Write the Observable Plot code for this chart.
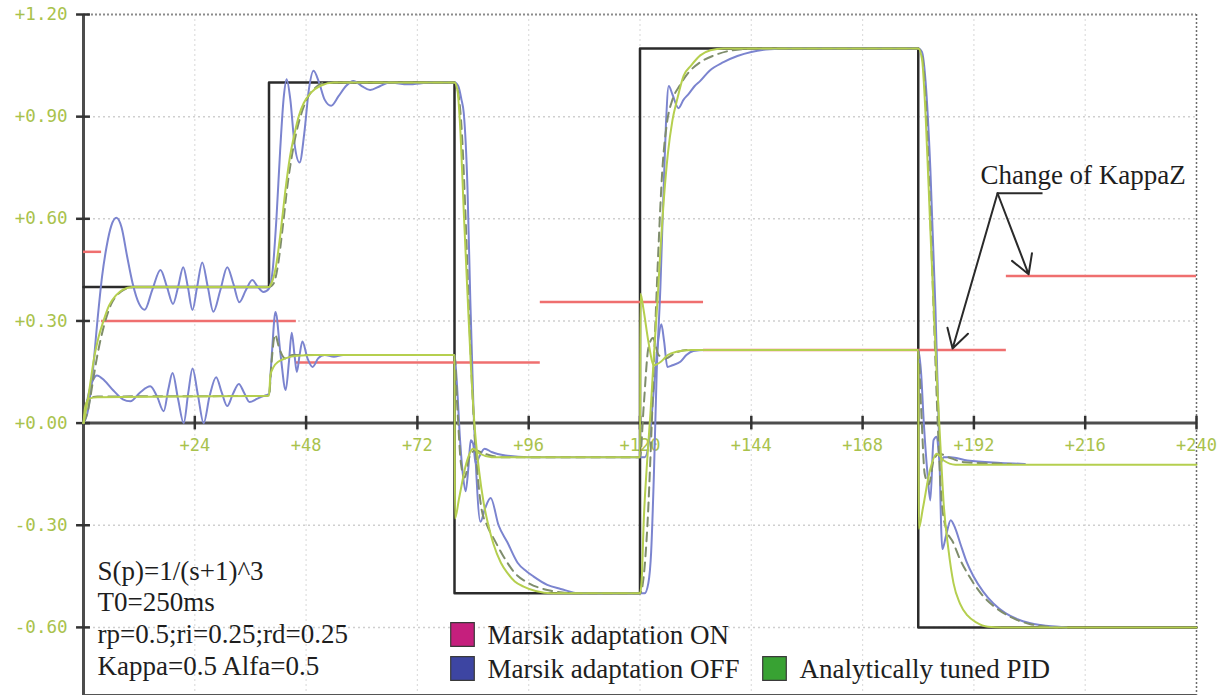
<!DOCTYPE html>
<html>
<head>
<meta charset="utf-8">
<script src="https://cdn.jsdelivr.net/npm/d3@7"></script>
<script src="https://cdn.jsdelivr.net/npm/@observablehq/plot@0.6"></script>
<style>
  html, body { margin: 0; padding: 0; background: #ffffff; }
  #chart { width: 1230px; height: 695px; }
</style>
</head>
<body>
<div id="chart"></div>
<script>
// ---------- data ----------
const xTicks = [24, 48, 72, 96, 120, 144, 168, 192, 216, 240];
const yTicks = [-0.6, -0.3, 0, 0.3, 0.6, 0.9, 1.2];

// set-point w(t)
const setpoint = [[0,0.4],[40,0.4],[40,1.0],[80,1.0],[80,-0.5],[120,-0.5],[120,1.1],[180,1.1],[180,-0.6],[240,-0.6]];

// Analytically tuned PID: output y and control u
const pidOutput = [
  [0,0],[0.7,0.05],[1.5,0.12],[2.2,0.185],[3.2,0.25],[4.3,0.3],[5.5,0.345],[7,0.375],[8.5,0.392],[10.5,0.4],[40,0.4],
  [40.5,0.41],[41.5,0.46],[42.5,0.56],[43.5,0.68],[44.5,0.78],[45.5,0.85],[46.5,0.905],[47.5,0.94],[49,0.97],[51,0.99],[54,1.0],[80,1.0],
  [80.6,0.98],[81.3,0.85],[82,0.62],[82.8,0.38],[83.6,0.15],[84.4,-0.02],[85.3,-0.14],[86.3,-0.235],[87.3,-0.3],[88.4,-0.355],[90,-0.41],[91.4,-0.44],[93,-0.465],[94.9,-0.48],[97.5,-0.493],[101,-0.5],[120,-0.5],
  [120.4,-0.45],[120.8,-0.29],[121.5,-0.12],[122.3,0.04],[123,0.2],[123.8,0.365],[124.5,0.53],[125.1,0.65],[126,0.79],[127,0.89],[128,0.95],[129.4,1.02],[131,1.05],[133,1.08],[135.2,1.095],[138,1.1],[180,1.1],
  [180.8,1.07],[181.6,0.9],[182.6,0.57],[183.4,0.32],[184.1,0.11],[184.8,-0.07],[185.5,-0.24],[186.5,-0.37],[187.6,-0.47],[189,-0.53],[190.6,-0.565],[192.5,-0.585],[195,-0.598],[198,-0.6],[240,-0.6]
];
const pidControl = [
  [0,0],[0.4,0.05],[1.2,0.072],[3,0.076],[40,0.08],
  [40.3,0.14],[41,0.165],[42,0.18],[43.5,0.19],[46,0.198],[50,0.2],[80,0.2],
  [80.1,-0.28],[81,-0.22],[82.5,-0.12],[84,-0.075],[85.5,-0.09],[88,-0.1],[120,-0.1],
  [120.1,0.38],[120.8,0.33],[121.8,0.24],[123,0.17],[124.5,0.18],[126,0.2],[128,0.21],[131,0.215],[180,0.215],
  [180.1,-0.31],[181,-0.25],[182.5,-0.14],[184,-0.09],[185.5,-0.11],[188,-0.122],[240,-0.122]
];

// Marsik adaptation OFF: output y and control u
const offOutput = [
  [0,0],[1,0.04],[2,0.15],[3,0.3],[4,0.43],[5,0.52],[6,0.58],[7.1,0.603],[8.2,0.575],[9.4,0.49],[10.6,0.41],[12,0.35],[13.2,0.333],
  [14.8,0.39],[16.6,0.45],[18,0.4],[19.3,0.35],[20.4,0.4],[21.5,0.458],[22.5,0.4],[23.5,0.332],[24.5,0.4],[25.6,0.472],[26.8,0.4],[28,0.327],
  [29.5,0.39],[31,0.458],[32.3,0.41],[33.6,0.355],[35,0.39],[36.4,0.42],[37.6,0.4],[38.8,0.385],[40,0.395],
  [40.8,0.45],[41.6,0.6],[42.4,0.8],[43.2,0.96],[43.8,1.01],[44.6,0.95],[45.5,0.82],[46.6,0.765],[47.6,0.85],[48.6,0.98],[49.6,1.035],[50.8,1.0],
  [52,0.95],[53.4,0.932],[55,0.96],[56.6,0.99],[58.2,1.005],[60,0.99],[61.8,0.978],[64,0.99],[66,1.0],[70,0.995],[75,1.0],[80,1.0],
  [80.8,0.99],[81.5,0.95],[82,0.91],[82.8,0.69],[83.4,0.365],[84.1,0.04],[84.6,-0.12],[85.6,-0.29],[86.6,-0.25],[87.8,-0.22],[89.5,-0.3],[91.4,-0.35],
  [93.6,-0.41],[95.5,-0.435],[97,-0.45],[100,-0.475],[102.9,-0.487],[107,-0.5],[120,-0.5],
  [121,-0.5],[121.8,-0.47],[122.4,-0.38],[123,-0.15],[123.6,0.15],[124.4,0.4],[125,0.65],[125.6,0.88],[126.2,0.99],[127,0.965],[128.3,0.925],
  [129.4,0.95],[130.5,0.967],[131.8,0.99],[133,1.005],[135,1.035],[138,1.06],[141,1.078],[144,1.09],[148,1.098],[152,1.1],[180,1.1],
  [180.8,1.09],[181.6,1.0],[182.6,0.75],[183.7,0.34],[184.4,0.0],[185.2,-0.37],[186,-0.33],[187,-0.285],[188,-0.31],[189.1,-0.355],[190.5,-0.41],
  [191.9,-0.45],[194,-0.495],[196.2,-0.53],[198.8,-0.558],[201.4,-0.576],[204,-0.587],[206.4,-0.593],[212,-0.6]
];
const offControl = [
  [0,0],[1,0.08],[2,0.125],[2.9,0.14],[4.5,0.125],[6.5,0.095],[8.5,0.07],[10.1,0.064],[12.2,0.09],[14.4,0.108],[15.8,0.08],[17.3,0.035],
  [18.3,0.1],[19.2,0.147],[20.4,0.07],[21.6,0.0],[22.6,0.09],[23.5,0.16],[24.7,0.08],[25.9,0.0],[27.2,0.08],[28.6,0.135],[29.8,0.09],[31,0.05],
  [32.2,0.085],[33.5,0.115],[34.6,0.09],[35.8,0.062],[37.5,0.072],[39.4,0.082],[40,0.085],
  [40.6,0.2],[41.4,0.326],[42.5,0.2],[43.6,0.097],[44.3,0.18],[44.9,0.265],[45.5,0.2],[46,0.15],[46.6,0.2],[47.2,0.24],[48.3,0.19],[49.4,0.165],
  [50.6,0.19],[52,0.2],[54,0.195],[56,0.2],[80,0.2],
  [80.5,0.12],[81.2,-0.05],[81.8,-0.15],[82.4,-0.2],[83,-0.13],[83.5,-0.05],[84,-0.06],[84.6,-0.12],[85.3,-0.1],[86.5,-0.075],[88,-0.085],[91,-0.095],[96,-0.1],[120,-0.1],
  [121,-0.1],[122,-0.05],[123,0.1],[124,0.25],[124.6,0.29],[125.2,0.24],[125.9,0.165],[127,0.17],[128.7,0.18],[130,0.2],[131.5,0.212],[134,0.215],[180,0.215],
  [180.6,0.15],[181.2,0.0],[182,-0.15],[182.6,-0.227],[183.3,-0.05],[184,-0.04],[184.7,-0.12],[185.5,-0.1],[187,-0.1],[190.6,-0.11],[197.8,-0.117],[203,-0.12]
];

// Marsik adaptation ON: output y and control u
const onOutput = [
  [0,0],[1,0.04],[2,0.12],[3,0.2],[4.5,0.29],[6,0.35],[8,0.385],[11,0.4],[40,0.4],
  [41,0.41],[42,0.47],[43,0.58],[44,0.7],[45,0.79],[46,0.86],[47,0.91],[48.5,0.96],[50,0.985],[52,1.0],[80,1.0],
  [80.8,0.97],[81.6,0.85],[82.4,0.6],[83.2,0.3],[84,0.05],[84.8,-0.12],[85.8,-0.25],[87,-0.3],[88.5,-0.34],[90.5,-0.39],[93,-0.44],[96,-0.47],[100,-0.49],[106,-0.5],[120,-0.5],
  [120.8,-0.45],[121.6,-0.3],[122.4,-0.05],[123.2,0.25],[124,0.52],[124.8,0.74],[125.8,0.88],[127,0.95],[128.5,0.99],[130.5,1.03],[133,1.06],[136,1.08],[140,1.095],[145,1.1],[180,1.1],
  [180.8,1.08],[181.6,0.95],[182.5,0.65],[183.4,0.3],[184.2,0.0],[185,-0.22],[186,-0.31],[187.5,-0.35],[189,-0.4],[191,-0.45],[193.5,-0.5],[196.5,-0.54],[200,-0.57],[204,-0.59],[210,-0.6]
];
const onControl = [
  [0,0],[1,0.07],[3,0.078],[40,0.08],
  [40.5,0.17],[41.3,0.26],[42.2,0.22],[43.5,0.19],[45,0.2],[80,0.2],
  [80.6,0.05],[81.4,-0.12],[82.2,-0.16],[83.2,-0.1],[84.5,-0.08],[86.5,-0.09],[90,-0.1],[120,-0.1],
  [120.8,0.05],[121.8,0.22],[122.8,0.25],[124,0.2],[125.5,0.19],[127.5,0.205],[130,0.215],[180,0.215],
  [180.6,0.05],[181.4,-0.15],[182.3,-0.18],[183.3,-0.11],[184.5,-0.09],[186.5,-0.1],[190,-0.115],[200,-0.12]
];

// KappaZ (red step segments)
const kappaStart = [0, 3.9, 45.9, 98.5, 133.7, 199];
const kappaEnd   = [3.9, 45.9, 98.5, 133.7, 199, 240];
const kappaValue = [0.503, 0.3, 0.178, 0.356, 0.215, 0.432];

// annotation
const annotationText = "Change of KappaZ";
const annotationTextAt = [193.4, 0.728];
const annotationApex = [197.1, 0.675];
const annotationBarEnd = [206.8, 0.675];
const annotationTargets = [[203.8, 0.437], [187.4, 0.219]];

// text block and legend
const infoLines = ["S(p)=1/(s+1)^3", "T0=250ms", "rp=0.5;ri=0.25;rd=0.25", "Kappa=0.5 Alfa=0.5"];
const legendLabels = ["Marsik adaptation ON", "Marsik adaptation OFF", "Analytically tuned PID"];
const legendColors = ["#c51f7d", "#3d45a2", "#38a233"];

// ---------- styles ----------
const labelColor = "#a9c24c";
const monoFont = "DejaVu Sans Mono";
const serifFont = "Liberation Serif";
const cPid = "#b5cf4f";
const cOff = "#7b84cf";
const cOn = "#7f8d6c";
const cRed = "#ef6f6f";
const tickHalfY = 0.02;   // half length of x tick marks (data units)
const tickHalfX = 1.5;    // half length of y tick marks (data units)

const kappa = kappaValue.map((v, i) => ({x1: kappaStart[i], x2: kappaEnd[i], y: v}));
const fmtY = d => (d < 0 ? "-" : "+") + Math.abs(d).toFixed(2);
const lineOpts = (stroke, extra = {}) => ({x: d => d[0], y: d => d[1], stroke, strokeWidth: 2, curve: "monotone-x", ...extra});

// legend layout (row, col) -> pixel offsets from frame bottom-left
const legendPos = [[0, 0], [1, 0], [1, 1]];
const colDx = [379, 691];
const rowDy = [-61, -27];

const legendMarks = legendLabels.flatMap((label, i) => {
  const [row, col] = legendPos[i];
  return [
    Plot.dot([label], {frameAnchor: "bottom-left", dx: colDx[col], dy: rowDy[row], symbol: "square", r: 13.3,
      fill: legendColors[i], stroke: "#3a3a3a", strokeWidth: 1.2}),
    Plot.text([label], {frameAnchor: "bottom-left", dx: colDx[col] + 25, dy: rowDy[row] + 1, text: d => d,
      textAnchor: "start", lineAnchor: "middle", fontFamily: serifFont, fontSize: 27, fill: "#1e1e1e"})
  ];
});

const chart = Plot.plot({
  width: 1230,
  height: 695,
  marginLeft: 83,
  marginRight: 34,
  marginTop: 14,
  marginBottom: 0,
  x: {domain: [0, 240], axis: null},
  y: {domain: [-0.8, 1.2], axis: null},
  style: {background: "#ffffff"},
  marks: [
    // grid
    Plot.ruleX(xTicks.filter(d => d < 240), {x: d => d, stroke: "#dedede", strokeWidth: 1.2, strokeDasharray: "2,3"}),
    Plot.ruleY(yTicks.filter(d => d !== 0 && d < 1.2), {y: d => d, stroke: "#cfcfcf", strokeWidth: 1.5, strokeDasharray: "2,3"}),
    // borders
    Plot.ruleY([1.2], {y: d => d, stroke: "#8c8c8c", strokeWidth: 2, strokeDasharray: "2,2"}),
    Plot.ruleX([240], {x: d => d, stroke: "#6d6d6d", strokeWidth: 1.5, strokeDasharray: "2,2"}),
    Plot.ruleY([-0.8], {y: d => d, stroke: "#555", strokeWidth: 3}),
    // axes
    Plot.ruleX([0], {x: d => d, stroke: "#4d4d4d", strokeWidth: 3}),
    Plot.ruleY([0], {y: d => d, stroke: "#4d4d4d", strokeWidth: 3}),
    Plot.ruleY(yTicks, {y: d => d, x1: -tickHalfX, x2: tickHalfX, stroke: "#333", strokeWidth: 2.5}),
    Plot.ruleX(xTicks, {x: d => d, y1: -tickHalfY, y2: tickHalfY, stroke: "#333", strokeWidth: 2.5}),
    Plot.text(yTicks, {x: 0, y: d => d, text: fmtY, textAnchor: "end", dx: -16, fill: labelColor,
      fontFamily: monoFont, fontSize: 17.5}),
    Plot.text(xTicks, {x: d => d, y: 0, dy: 22, text: d => "+" + d, textAnchor: "middle", fill: labelColor,
      fontFamily: monoFont, fontSize: 17}),
    // series
    Plot.line(setpoint, {x: d => d[0], y: d => d[1], stroke: "#2b2b2b", strokeWidth: 2.5}),
    Plot.ruleY(kappa, {y: "y", x1: "x1", x2: "x2", stroke: cRed, strokeWidth: 2.5}),
    Plot.line(offControl, lineOpts(cOff)),
    Plot.line(offOutput, lineOpts(cOff)),
    Plot.line(onControl, lineOpts(cOn, {strokeDasharray: "9,6"})),
    Plot.line(onOutput, lineOpts(cOn, {strokeDasharray: "9,6"})),
    Plot.line(pidControl, lineOpts(cPid)),
    Plot.line(pidOutput, lineOpts(cPid)),
    // annotation
    Plot.text([annotationText], {x: annotationTextAt[0], y: annotationTextAt[1], text: d => d, textAnchor: "start",
      lineAnchor: "middle", fontFamily: serifFont, fontSize: 27, fill: "#1e1e1e"}),
    Plot.link([0], {x1: annotationApex[0], y1: annotationApex[1], x2: annotationBarEnd[0], y2: annotationBarEnd[1],
      stroke: "#2a2a2a", strokeWidth: 2}),
    Plot.arrow(annotationTargets, {x1: annotationApex[0], y1: annotationApex[1], x2: d => d[0], y2: d => d[1],
      stroke: "#2a2a2a", strokeWidth: 2, headLength: 16}),
    // text block
    Plot.text([infoLines.join("\n")], {frameAnchor: "bottom-left", dx: 14, dy: -21, text: d => d, textAnchor: "start",
      lineAnchor: "bottom", lineHeight: 1.17, fontFamily: serifFont, fontSize: 27, fill: "#1e1e1e"}),
    ...legendMarks
  ]
});

document.getElementById("chart").appendChild(chart);
</script>
</body>
</html>
